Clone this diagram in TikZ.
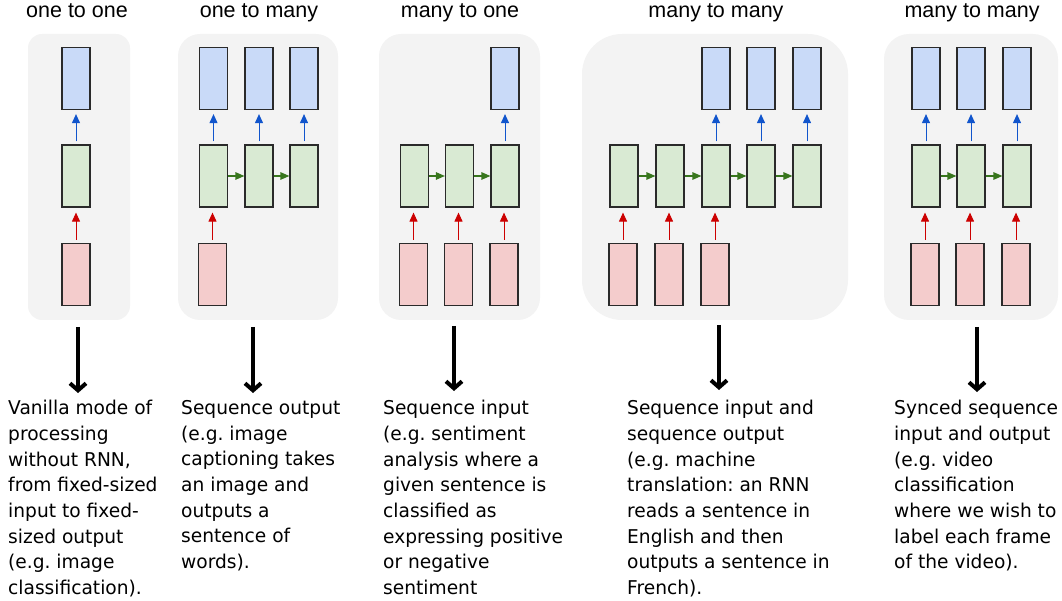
\documentclass[tikz,border=0pt]{standalone}
\usepackage{fontspec}
\setmainfont[FakeStretch=0.98]{DejaVu Sans}
\newfontfamily\titlefont{Liberation Sans}
\usetikzlibrary{arrows.meta}
\definecolor{panelgray}{HTML}{F3F3F3}
\definecolor{bluefill}{HTML}{C9DAF8}
\definecolor{greenfill}{HTML}{D9EAD3}
\definecolor{redfill}{HTML}{F4CCCC}
\definecolor{boxline}{HTML}{2A2A2A}
\definecolor{arrblue}{HTML}{1155CC}
\definecolor{arrred}{HTML}{CC0000}
\definecolor{arrgreen}{HTML}{38761D}
\tikzset{
  panel/.style={fill=panelgray, draw=none},
  cell/.style={draw=boxline, line width=1.2pt, minimum width=28pt, minimum height=62pt, inner sep=0pt},
  outcell/.style={cell, fill=bluefill},
  hidcell/.style={cell, fill=greenfill},
  incell/.style={cell, fill=redfill},
  uparrblue/.style={draw=arrblue, line width=1pt, -{Triangle[length=9pt,width=8pt]}, shorten <=3pt, shorten >=4pt},
  uparrred/.style={draw=arrred, line width=1pt, -{Triangle[length=9pt,width=8pt]}, shorten <=3pt, shorten >=5pt},
  rightarr/.style={draw=arrgreen, line width=1.2pt, -{Triangle[length=9pt,width=7.5pt]}},
  bigarrow/.style={draw=black, line width=4pt, -{Straight Barb[length=7pt,width=16pt]}},
  title/.style={font=\titlefont\fontsize{21.5}{24}\selectfont, anchor=base, inner sep=0pt},
  desc/.style={font=\fontsize{19}{25.7}\selectfont\frenchspacing, align=left, anchor=north west, inner sep=0pt},
}
\begin{document}
\frenchspacing
\begin{tikzpicture}[x=1pt,y=-1pt]
\useasboundingbox (0,0) rectangle (1062,601);
% panels
\fill[panelgray, rounded corners=14pt] (28,34) rectangle (130,320);
\fill[panelgray, rounded corners=22pt] (178,34) rectangle (338,320);
\fill[panelgray, rounded corners=22pt] (379,34) rectangle (540,320);
\fill[panelgray, rounded corners=40pt] (582,34) rectangle (848,320);
\fill[panelgray, rounded corners=25pt] (884,34) rectangle (1058,320);
% titles
\node[title] (t1) at (77,18) {one to one};
\node[title] (t2) at (259,18) {one to many};
\node[title] (t3) at (460,18) {many to one};
\node[title] (t4) at (716,18) {many to many};
\node[title] (t5) at (972,18) {many to many};
% panel 1
\node[outcell] (a_o1) at (76,78.5) {};
\node[hidcell] (a_h1) at (76,176) {};
\node[incell] (a_i1) at (76,274.5) {};
\draw[uparrblue] (a_h1) -- (a_o1);
\draw[uparrred] (a_i1) -- (a_h1);
% panel 2
\node[outcell] (b_o1) at (213.5,78.5) {};
\node[outcell] (b_o2) at (259,78.5) {};
\node[outcell] (b_o3) at (304,78.5) {};
\node[hidcell] (b_h1) at (213.5,176) {};
\node[hidcell] (b_h2) at (259,176) {};
\node[hidcell] (b_h3) at (304,176) {};
\node[incell] (b_i1) at (212.5,274.5) {};
\draw[uparrblue] (b_h1) -- (b_o1);
\draw[uparrblue] (b_h2) -- (b_o2);
\draw[uparrblue] (b_h3) -- (b_o3);
\draw[rightarr] (b_h1) -- (b_h2);
\draw[rightarr] (b_h2) -- (b_h3);
\draw[uparrred] (b_i1.north) -- (b_i1.north |- b_h1.south);
% panel 3
\node[outcell] (c_o3) at (505,78.5) {};
\node[hidcell] (c_h1) at (414.5,176) {};
\node[hidcell] (c_h2) at (459.5,176) {};
\node[hidcell] (c_h3) at (505,176) {};
\node[incell] (c_i1) at (413.5,274.5) {};
\node[incell] (c_i2) at (458.5,274.5) {};
\node[incell] (c_i3) at (504,274.5) {};
\draw[uparrblue] (c_h3) -- (c_o3);
\draw[rightarr] (c_h1) -- (c_h2);
\draw[rightarr] (c_h2) -- (c_h3);
\draw[uparrred] (c_i1.north) -- (c_i1.north |- c_h1.south);
\draw[uparrred] (c_i2.north) -- (c_i2.north |- c_h2.south);
\draw[uparrred] (c_i3.north) -- (c_i3.north |- c_h3.south);
% panel 4
\node[outcell] (d_o3) at (716,78.5) {};
\node[outcell] (d_o4) at (761,78.5) {};
\node[outcell] (d_o5) at (807,78.5) {};
\node[hidcell] (d_h1) at (624,176) {};
\node[hidcell] (d_h2) at (670,176) {};
\node[hidcell] (d_h3) at (716,176) {};
\node[hidcell] (d_h4) at (761,176) {};
\node[hidcell] (d_h5) at (807,176) {};
\node[incell] (d_i1) at (623,274.5) {};
\node[incell] (d_i2) at (669,274.5) {};
\node[incell] (d_i3) at (715,274.5) {};
\draw[uparrblue] (d_h3) -- (d_o3);
\draw[uparrblue] (d_h4) -- (d_o4);
\draw[uparrblue] (d_h5) -- (d_o5);
\draw[rightarr] (d_h1) -- (d_h2);
\draw[rightarr] (d_h2) -- (d_h3);
\draw[rightarr] (d_h3) -- (d_h4);
\draw[rightarr] (d_h4) -- (d_h5);
\draw[uparrred] (d_i1.north) -- (d_i1.north |- d_h1.south);
\draw[uparrred] (d_i2.north) -- (d_i2.north |- d_h2.south);
\draw[uparrred] (d_i3.north) -- (d_i3.north |- d_h3.south);
% panel 5
\node[outcell] (e_o1) at (926,78.5) {};
\node[outcell] (e_o2) at (971,78.5) {};
\node[outcell] (e_o3) at (1017,78.5) {};
\node[hidcell] (e_h1) at (926,176) {};
\node[hidcell] (e_h2) at (971,176) {};
\node[hidcell] (e_h3) at (1017,176) {};
\node[incell] (e_i1) at (925,274.5) {};
\node[incell] (e_i2) at (970,274.5) {};
\node[incell] (e_i3) at (1016,274.5) {};
\draw[uparrblue] (e_h1) -- (e_o1);
\draw[uparrblue] (e_h2) -- (e_o2);
\draw[uparrblue] (e_h3) -- (e_o3);
\draw[rightarr] (e_h1) -- (e_h2);
\draw[rightarr] (e_h2) -- (e_h3);
\draw[uparrred] (e_i1.north) -- (e_i1.north |- e_h1.south);
\draw[uparrred] (e_i2.north) -- (e_i2.north |- e_h2.south);
\draw[uparrred] (e_i3.north) -- (e_i3.north |- e_h3.south);
% descriptions
\node[desc] (x1) at (8,400) {Vanilla mode of\\processing\\without RNN,\\from fixed-sized\\input to fixed-\\sized output\\(e.g. image\\classification).};
\node[desc] (x2) at (181,400) {Sequence output\\(e.g. image\\captioning takes\\an image and\\outputs a\\sentence of\\words).};
\node[desc] (x3) at (383,400) {Sequence input\\(e.g. sentiment\\analysis where a\\given sentence is\\classified as\\expressing positive\\or negative\\sentiment};
\node[desc] (x4) at (627,400) {Sequence input and\\sequence output\\(e.g. machine\\translation: an RNN\\reads a sentence in\\English and then\\outputs a sentence in\\French).};
\node[desc] (x5) at (894,400) {Synced sequence\\input and output\\(e.g. video\\classification\\where we wish to\\label each frame\\of the video).};
% big arrows
\coordinate (s1) at (78,327); \coordinate (f1) at (78,393);
\coordinate (s2) at (253,327); \coordinate (f2) at (253,393);
\coordinate (s3) at (454,326); \coordinate (f3) at (454,391);
\coordinate (s4) at (719,325); \coordinate (f4) at (719,390);
\coordinate (s5) at (977,327); \coordinate (f5) at (977,392);
\draw[bigarrow] (s1) -- (f1);
\draw[bigarrow] (s2) -- (f2);
\draw[bigarrow] (s3) -- (f3);
\draw[bigarrow] (s4) -- (f4);
\draw[bigarrow] (s5) -- (f5);
\end{tikzpicture}
\end{document}
